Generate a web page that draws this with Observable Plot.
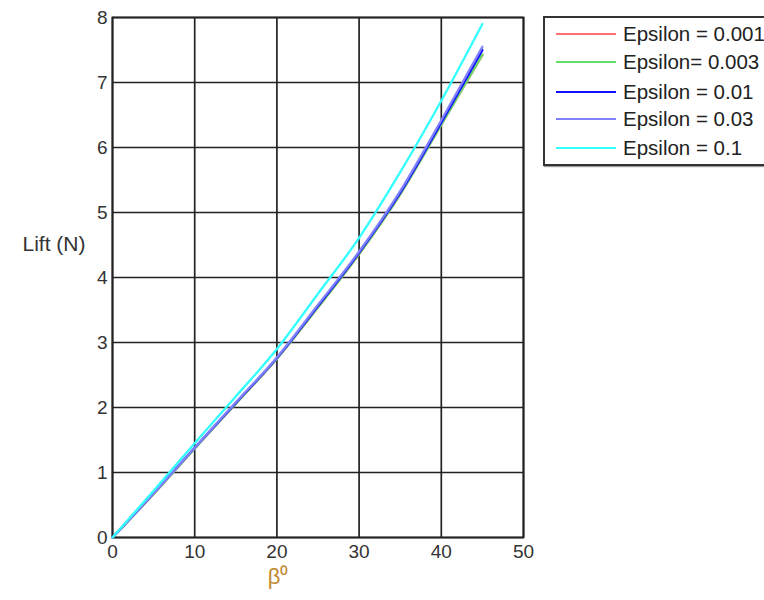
<!DOCTYPE html>
<html>
<head>
<meta charset="utf-8">
<script src="https://cdn.jsdelivr.net/npm/d3@7"></script>
<script src="https://cdn.jsdelivr.net/npm/@observablehq/plot@0.6"></script>
<style>
  body { margin: 0; background: #fff; font-family: "Liberation Sans", Arial, sans-serif; }
  #wrap { position: relative; width: 764px; height: 600px; overflow: hidden; }
  #legend { position: absolute; left: 543px; top: 16px; width: 240px; height: 150px;
            border: 2px solid #333; box-shadow: 1px 1px 1px #999; background: #fff; box-sizing: border-box; }
  .row { position: absolute; left: 0; height: 22px; display: flex; align-items: center; }
  .row svg { margin-left: 11px; }
  .row span { margin-left: 7px; font-size: 20.5px; color: #222; white-space: nowrap; }
  #chart svg g[aria-label="x-axis tick label"] text,
  #chart svg g[aria-label="y-axis tick label"] text { font-size: 19px; }
</style>
</head>
<body>
<div id="wrap"><div id="chart"></div><div id="legend"></div></div>
<script>
const angles = [0, 5, 10, 15, 20, 25, 30, 35, 40, 45];
const eps001 = [0, 0.67, 1.37, 2.06, 2.75, 3.54, 4.36, 5.28, 6.35, 7.42];
const eps003 = [0, 0.67, 1.37, 2.06, 2.75, 3.54, 4.36, 5.28, 6.35, 7.43];
const eps01  = [0, 0.68, 1.38, 2.07, 2.76, 3.56, 4.38, 5.30, 6.38, 7.50];
const eps03  = [0, 0.68, 1.38, 2.08, 2.77, 3.58, 4.40, 5.33, 6.42, 7.55];
const eps1   = [0, 0.72, 1.45, 2.17, 2.90, 3.75, 4.61, 5.62, 6.72, 7.90];
const seriesNames = ["Epsilon = 0.001", "Epsilon= 0.003", "Epsilon = 0.01", "Epsilon = 0.03", "Epsilon = 0.1"];
const seriesValues = [eps001, eps003, eps01, eps03, eps1];
const seriesColors = ["#ff7070", "#66dd66", "#1010ff", "#8080ff", "#33ffff"];
const xTicks = [0, 10, 20, 30, 40, 50];
const yTicks = [0, 1, 2, 3, 4, 5, 6, 7, 8];

const data = [];
seriesNames.forEach((name, i) => {
  angles.forEach((a, j) => data.push({series: name, beta: a, lift: seriesValues[i][j]}));
});

const chart = Plot.plot({
  width: 764,
  height: 600,
  marginLeft: 112,
  marginRight: 241,
  marginTop: 17,
  marginBottom: 63,
  style: {fontFamily: "'Liberation Sans', Arial, sans-serif", fontSize: "18px", color: "#222", background: "transparent"},
  x: {domain: [0, 50], ticks: xTicks, label: null},
  y: {domain: [0, 8], ticks: yTicks, label: null},
  color: {domain: seriesNames, range: seriesColors},
  marks: [
    Plot.gridX(xTicks, {stroke: "#222", strokeOpacity: 1, strokeWidth: 1.7}),
    Plot.gridY(yTicks, {stroke: "#222", strokeOpacity: 1, strokeWidth: 1.7}),
    Plot.frame({stroke: "#222", strokeWidth: 1.9}),
    Plot.line(data, {x: "beta", y: "lift", z: "series", stroke: "series", strokeWidth: 2.3, curve: "monotone-x"}),
    Plot.axisX(xTicks, {tickSize: 0, tickPadding: 7, fontSize: 19, fill: "#333", tickFormat: "d"}),
    Plot.axisY(yTicks, {tickSize: 0, tickPadding: 5, fontSize: 19, fill: "#333", tickFormat: "d"}),
    Plot.text(["Lift (N)"], {frameAnchor: "left", dx: -90, dy: -33, fontSize: 21, fill: "#333"}),
    Plot.text(["β⁰"], {frameAnchor: "bottom", dx: -40, dy: 46, fontSize: 22, fill: "#c08a30"})
  ]
});
document.getElementById("chart").appendChild(chart);

const legend = document.getElementById("legend");
const rowTops = [5, 33, 63, 90, 119];
seriesNames.forEach((name, i) => {
  const row = document.createElement("div");
  row.className = "row";
  row.style.top = rowTops[i] + "px";
  row.innerHTML = `<svg width="60" height="4"><line x1="0" x2="60" y1="2" y2="2" stroke="${seriesColors[i]}" stroke-width="2"/></svg><span>${name}</span>`;
  legend.appendChild(row);
});
</script>
</body>
</html>
